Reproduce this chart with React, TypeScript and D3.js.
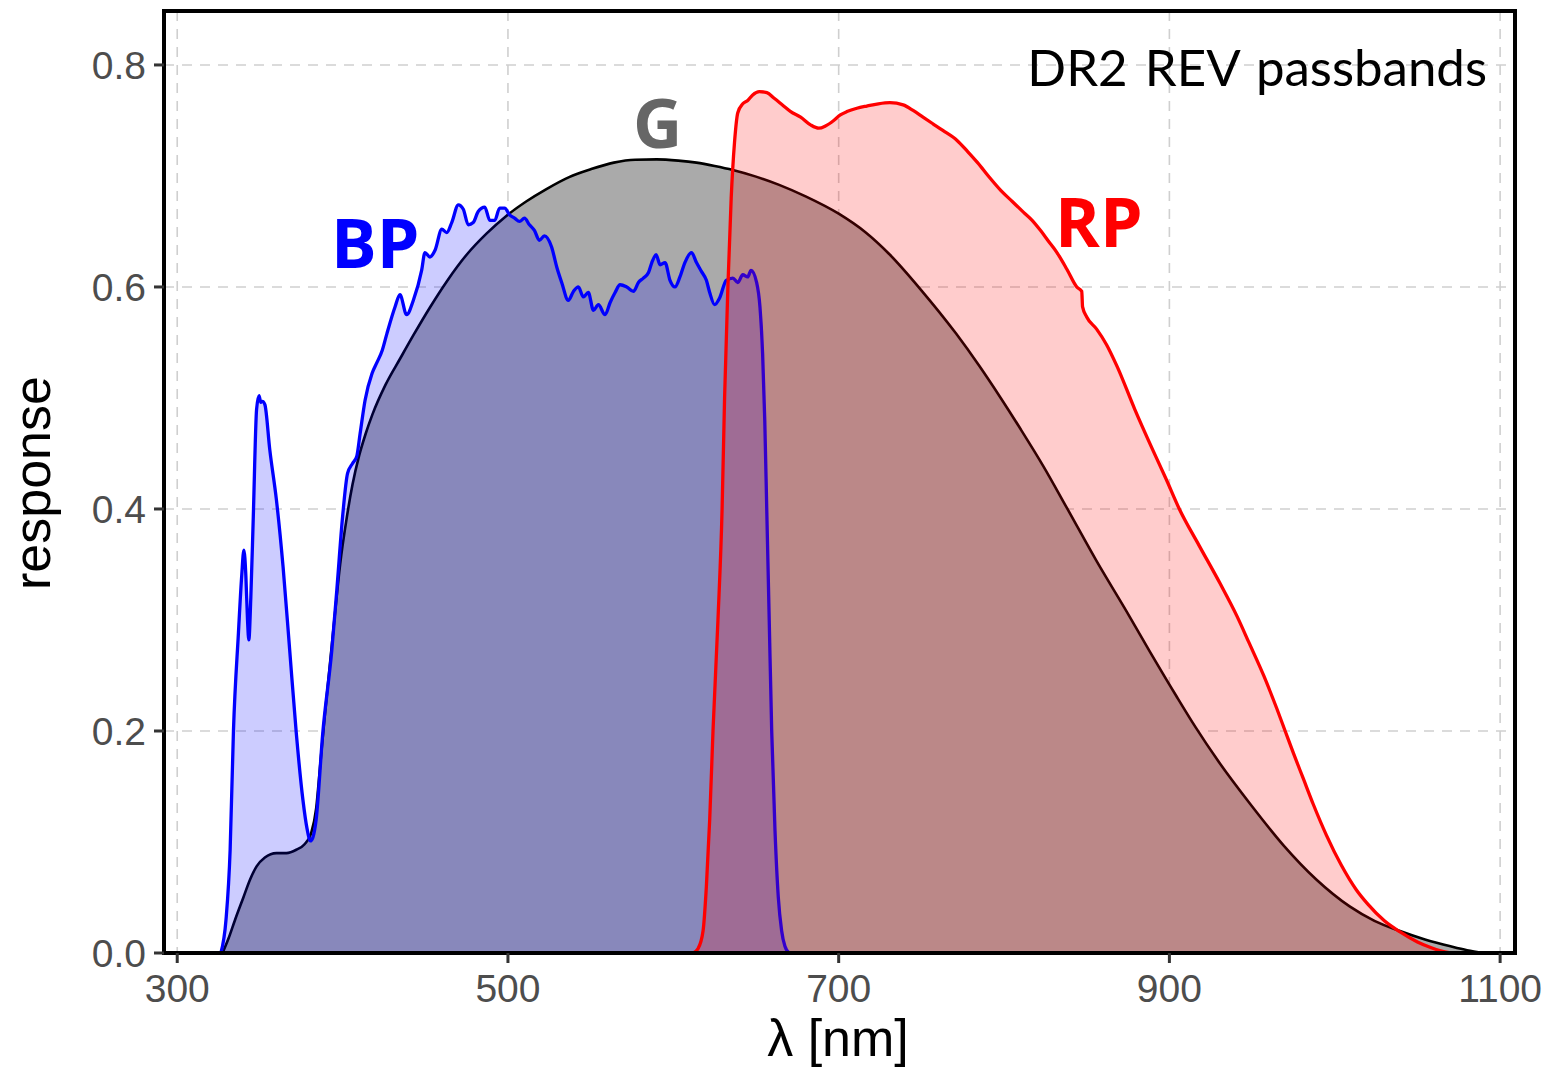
import React from "react";
import * as d3 from "d3";

// ---- Data (wavelength in nm, response) ----
const gWave = [327.4, 331, 335, 340, 344, 348, 353, 360, 366, 372, 377, 381, 384, 386.5, 389, 392, 395, 398.5, 402.5, 406, 410, 414, 418, 426, 435, 443, 453, 463, 475, 487, 499, 511, 523, 537, 550, 564, 577, 590, 603, 614, 625, 636, 650, 664, 680, 700, 716, 731, 750, 771, 785, 798, 810, 824, 838, 856, 874, 888, 904, 916, 929, 949, 969, 989, 1009, 1024, 1039, 1055, 1070, 1080, 1090];
const gResp = [0, 0.013, 0.03, 0.05, 0.066, 0.078, 0.086, 0.09, 0.09, 0.093, 0.098, 0.108, 0.13, 0.17, 0.21, 0.255, 0.3, 0.35, 0.392, 0.422, 0.448, 0.468, 0.485, 0.512, 0.536, 0.557, 0.582, 0.605, 0.629, 0.648, 0.664, 0.677, 0.688, 0.699, 0.706, 0.712, 0.7146, 0.7149, 0.7138, 0.712, 0.709, 0.7054, 0.6994, 0.692, 0.6816, 0.666, 0.6495, 0.629, 0.597, 0.558, 0.529, 0.5, 0.472, 0.438, 0.401, 0.353, 0.308, 0.272, 0.232, 0.203, 0.174, 0.134, 0.097, 0.066, 0.042, 0.029, 0.02, 0.012, 0.006, 0.0025, 0];

const bpWave = [326.4, 329.5, 332, 334, 337, 339, 340.3, 341.5, 342.5, 343.3, 344.5, 346, 348, 349.5, 350.5, 351.5, 353, 356, 360, 364, 368, 372, 376, 378.5, 380.5, 382, 384, 388, 393.5, 396.5, 400, 403, 406, 408.5, 410.6, 413.6, 417.8, 420.8, 424, 426.8, 431.7, 434.7, 438.7, 442.8, 447.8, 449.8, 452.8, 455.9, 460, 463, 466, 470, 473, 476, 479, 482, 486, 489, 492, 495, 498, 501, 504, 507, 510, 513, 516, 519, 522, 526.4, 529.5, 532.5, 536.5, 539.6, 542.6, 545.6, 548.6, 551.7, 554.7, 558.7, 561.8, 564.8, 567.8, 571.8, 575.9, 578.9, 581.9, 585, 587, 589.6, 592, 595, 598, 601, 604, 607, 611, 614, 617, 620, 622, 625, 628, 632, 636, 639, 642, 645, 647, 650.4, 652.4, 654, 655.3, 656.5, 658, 659.5, 661.5, 663.5, 665.5, 667.5, 670];
const bpResp = [0, 0.03, 0.093, 0.2, 0.288, 0.34, 0.363, 0.34, 0.3, 0.282, 0.32, 0.393, 0.49, 0.502, 0.496, 0.497, 0.494, 0.453, 0.408, 0.348, 0.273, 0.198, 0.138, 0.112, 0.101, 0.104, 0.12, 0.198, 0.273, 0.327, 0.393, 0.432, 0.441, 0.447, 0.468, 0.498, 0.522, 0.532, 0.543, 0.558, 0.582, 0.593, 0.575, 0.588, 0.615, 0.631, 0.627, 0.633, 0.652, 0.649, 0.658, 0.674, 0.67, 0.656, 0.658, 0.668, 0.672, 0.66, 0.66, 0.671, 0.671, 0.665, 0.662, 0.659, 0.662, 0.656, 0.651, 0.642, 0.646, 0.636, 0.618, 0.604, 0.588, 0.596, 0.6, 0.591, 0.595, 0.579, 0.584, 0.575, 0.586, 0.595, 0.602, 0.6, 0.596, 0.604, 0.608, 0.613, 0.622, 0.629, 0.62, 0.622, 0.606, 0.6, 0.609, 0.622, 0.631, 0.622, 0.614, 0.606, 0.595, 0.584, 0.59, 0.606, 0.608, 0.604, 0.611, 0.609, 0.615, 0.604, 0.582, 0.54, 0.48, 0.4, 0.3, 0.2, 0.11, 0.05, 0.02, 0.006, 0];

const rpWave = [612, 615, 618, 620, 622, 624, 627, 629.5, 631, 633, 635, 637, 639, 642, 645, 648, 652, 656.6, 661, 666, 671, 677, 683, 688, 692, 697, 701, 705, 711, 717, 724, 731, 739, 745, 751, 757, 763, 771.6, 778, 784, 791, 798, 805, 812, 817, 822, 827, 832, 838, 844, 847, 847.5, 850, 856, 862, 868.5, 879, 890, 898, 906, 918, 930.6, 941, 948, 957, 965, 970, 975, 981, 987, 995, 1004, 1013, 1020, 1030, 1039.5, 1050, 1058, 1064, 1070];
const rpResp = [0, 0.004, 0.02, 0.06, 0.12, 0.2, 0.3, 0.4, 0.5, 0.6, 0.68, 0.73, 0.757, 0.765, 0.768, 0.773, 0.776, 0.775, 0.77, 0.764, 0.758, 0.753, 0.746, 0.743, 0.745, 0.75, 0.755, 0.758, 0.761, 0.763, 0.765, 0.766, 0.764, 0.759, 0.753, 0.747, 0.741, 0.732, 0.722, 0.712, 0.699, 0.687, 0.677, 0.667, 0.66, 0.651, 0.641, 0.631, 0.616, 0.6, 0.596, 0.582, 0.573, 0.562, 0.548, 0.528, 0.49, 0.453, 0.427, 0.4, 0.367, 0.333, 0.303, 0.28, 0.25, 0.22, 0.2, 0.18, 0.157, 0.134, 0.106, 0.079, 0.057, 0.044, 0.029, 0.019, 0.01, 0.005, 0.002, 0];

const xTicks = [300, 500, 700, 900, 1100];
const yTicks = [0, 0.2, 0.4, 0.6, 0.8];

const W = 1553;
const H = 1069;
const L = 164, R = 1515, T = 11, B = 953;

export default function App() {
  const x = d3.scaleLinear().domain([292, 1109]).range([L, R]);
  const y = d3.scaleLinear().domain([0, 0.8486]).range([B, T]);

  const toPts = (ws: number[], rs: number[]) => ws.map((w, i) => [w, rs[i]] as [number, number]);
  const area = d3.area<[number, number]>().x(d => x(d[0])).y0(y(0)).y1(d => y(d[1])).curve(d3.curveMonotoneX);
  const line = d3.line<[number, number]>().x(d => x(d[0])).y(d => y(d[1])).curve(d3.curveMonotoneX);

  const g = toPts(gWave, gResp);
  const bp = toPts(bpWave, bpResp);
  const rp = toPts(rpWave, rpResp);

  const tickFont = "'Liberation Sans', Arial, Helvetica, sans-serif";

  return (
    <svg width={W} height={H} style={{ position: "absolute", left: 0, top: 0, background: "#fff" }}>
      <defs>
        <clipPath id="plot">
          <rect x={L} y={T} width={R - L} height={B - T} />
        </clipPath>
      </defs>
      <rect x={0} y={0} width={W} height={H} fill="#fff" />
      {/* grid */}
      <g stroke="#cfcfcf" strokeWidth={1.6} strokeDasharray="10,8">
        {xTicks.map(t => (
          <line key={"gx" + t} x1={x(t)} x2={x(t)} y1={T} y2={B} />
        ))}
        {yTicks.filter(t => t > 0).map(t => (
          <line key={"gy" + t} x1={L} x2={R} y1={y(t)} y2={y(t)} />
        ))}
      </g>
      <g clipPath="url(#plot)">
        <path d={area(g) || ""} fill="#aaaaaa" />
        <path d={line(g) || ""} fill="none" stroke="#000" strokeWidth={2.6} />
        <path d={area(bp) || ""} fill="#0000ff" fillOpacity={0.2} />
        <path d={line(bp) || ""} fill="none" stroke="#0000ff" strokeWidth={3.3} />
        <path d={area(rp) || ""} fill="#ff0000" fillOpacity={0.2} />
        <path d={line(rp) || ""} fill="none" stroke="#ff0000" strokeWidth={3.3} />
      </g>
      {/* border */}
      <rect x={L} y={T} width={R - L} height={B - T} fill="none" stroke="#000" strokeWidth={4} />
      {/* ticks */}
      <g stroke="#333" strokeWidth={3}>
        {xTicks.map(t => (
          <line key={"tx" + t} x1={x(t)} x2={x(t)} y1={B} y2={B + 10} />
        ))}
        {yTicks.map(t => (
          <line key={"ty" + t} x1={L - 10} x2={L} y1={y(t)} y2={y(t)} />
        ))}
      </g>
      <g fontFamily={tickFont} fontSize={39} fill="#4d4d4d">
        {xTicks.map(t => (
          <text key={"lx" + t} x={x(t)} y={1002} textAnchor="middle">{String(t)}</text>
        ))}
        {yTicks.map(t => (
          <text key={"ly" + t} x={146} y={y(t)} dy="0.36em" textAnchor="end">{t.toFixed(1)}</text>
        ))}
      </g>
      {/* axis titles */}
      <text x={838} y={1056} textAnchor="middle" fontFamily={tickFont} fontSize={52} fill="#000">λ [nm]</text>
      <text transform={`translate(50,483) rotate(-90)`} textAnchor="middle" fontFamily={tickFont} fontSize={52} fill="#000">response</text>
      {/* annotations */}
      <text x={1487} y={86} textAnchor="end" fontFamily="Lato, 'Open Sans', sans-serif" fontSize={51} fill="#000" style={{ wordSpacing: "4px" }}>DR2 REV passbands</text>
      <g fontFamily="'Open Sans', 'Noto Sans', sans-serif" fontWeight="bold" fontSize={68}>
        <text x={331} y={268} fill="#0000ff">BP</text>
        <text x={633} y={148} fill="#666666">G</text>
        <text x={1055} y={247} fill="#ff0000">RP</text>
      </g>
    </svg>
  );
}
